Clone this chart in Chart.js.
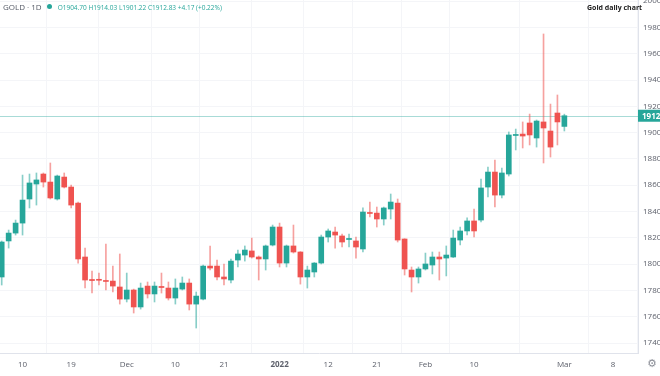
<!DOCTYPE html>
<html lang="en">
  <head>
    <meta charset="UTF-8" />
    <title>Gold daily chart</title>
    <style>
      body {
        margin: 0;
        background: #fff;
        font-family: "Open Sans", sans-serif;
      }
      .wrap {
        position: relative;
        width: 660px;
        height: 376px;
      }
      .head {
        position: absolute;
        left: 3px;
        top: 1px;
        font-size: 8px;
        color: #555a66;
        white-space: nowrap;
      }
      .head .dot {
        display: inline-block;
        width: 5px;
        height: 5px;
        border-radius: 50%;
        background: #26a69a;
        margin: 0 6px 0 5px;
        vertical-align: 1px;
      }
      .head .ohlc {
        font-size: 6.5px;
        color: #26a69a;
      }
      .title {
        position: absolute;
        left: 587px;
        top: 3px;
        font-size: 7px;
        font-weight: bold;
        color: #222;
      }
      .gear {
        position: absolute;
        left: 647px;
        top: 357px;
        font-family: "DejaVu Sans", sans-serif;
        font-size: 11px;
        color: #8a8d96;
      }
    </style>
  </head>
  <body>
    <div class="wrap">
      <canvas id="goldChart" width="660" height="376"></canvas>
      <div class="head">
        GOLD · 1D<span class="dot"></span
        ><span class="ohlc">O1904.70 H1914.03 L1901.22 C1912.83 +4.17 (+0.22%)</span>
      </div>
      <div class="title">Gold daily chart</div>
      <div class="gear">⚙</div>
    </div>
    <script src="https://cdn.jsdelivr.net/npm/chart.js"></script>
    <script>
      // daily candles, one per trading day (Nov 2021 - Mar 1 2022)
      const opens = [
        1790.2, 1817.6, 1823.6, 1831.2, 1849.5, 1860.9, 1868.5, 1862.4, 1849.5, 1866.2,
        1858.6, 1846.4, 1805.4, 1788.3, 1788.1, 1787.5, 1787.1, 1782.6, 1773.4, 1780.3,
        1767.4, 1783.3, 1777.3, 1783.0, 1781.8, 1774.2, 1781.0, 1785.6, 1769.6, 1773.4,
        1798.5, 1798.5, 1790.2, 1787.9, 1803.1, 1806.9, 1810.0, 1805.4, 1803.9, 1814.5,
        1828.2, 1800.8, 1813.8, 1809.2, 1790.2, 1794.0, 1800.8, 1820.6, 1824.4, 1821.4,
        1818.7, 1817.6, 1811.5, 1839.2, 1838.8, 1834.3, 1841.9, 1846.4, 1819.1, 1795.5,
        1790.2, 1796.3, 1799.3, 1805.4, 1804.6, 1805.4, 1818.3, 1825.2, 1832.8, 1833.5,
        1858.6, 1870.0, 1852.5, 1868.5, 1897.8, 1898.9, 1907.3, 1895.9, 1908.1, 1901.2,
        1914.9, 1904.7
      ];
      const highs = [
        1817.6, 1825.9, 1833.5, 1867.7, 1868.5, 1869.3, 1869.3, 1876.9, 1867.7, 1869.3,
        1860.1, 1847.2, 1812.2, 1794.7, 1793.2, 1815.3, 1798.5, 1807.7, 1793.2, 1781.0,
        1785.6, 1786.4, 1786.4, 1793.2, 1786.4, 1788.7, 1790.2, 1788.7, 1778.8, 1799.3,
        1813.8, 1803.1, 1800.1, 1803.9, 1810.7, 1813.8, 1819.8, 1806.2, 1814.5, 1829.7,
        1831.2, 1814.5, 1829.7, 1809.5, 1798.5, 1801.2, 1822.1, 1826.7, 1828.2, 1822.9,
        1822.9, 1820.6, 1842.7, 1847.2, 1843.4, 1843.4, 1853.3, 1849.5, 1819.3, 1797.8,
        1797.8, 1808.4, 1809.2, 1809.2, 1813.8, 1825.9, 1828.2, 1835.1, 1841.9, 1864.7,
        1873.8, 1879.2, 1873.1, 1900.5, 1902.7, 1908.1, 1914.1, 1909.6, 1975.0, 1921.7,
        1928.6, 1914.03
      ];
      const lows = [
        1784.1, 1812.2, 1822.1, 1822.1, 1842.7, 1844.9, 1858.6, 1849.5, 1848.7, 1857.9,
        1842.7, 1800.8, 1781.8, 1778.0, 1784.1, 1780.3, 1778.8, 1769.6, 1771.2, 1762.8,
        1765.8, 1774.2, 1771.2, 1778.0, 1772.7, 1769.6, 1780.3, 1765.1, 1751.4, 1772.7,
        1795.5, 1787.9, 1784.1, 1785.6, 1797.8, 1802.3, 1804.6, 1787.9, 1795.5, 1813.8,
        1797.8, 1797.8, 1808.4, 1784.8, 1781.8, 1790.2, 1800.1, 1816.8, 1812.2, 1813.0,
        1813.0, 1804.6, 1809.2, 1835.8, 1828.2, 1829.7, 1834.3, 1816.8, 1791.7, 1778.8,
        1785.6, 1795.5, 1792.5, 1787.9, 1791.0, 1805.0, 1814.5, 1822.1, 1820.6, 1832.0,
        1851.0, 1843.4, 1850.3, 1867.0, 1886.8, 1888.3, 1890.6, 1889.0, 1876.9, 1881.4,
        1890.6, 1901.22
      ];
      const closes = [
        1816.8, 1823.6, 1831.2, 1848.7, 1861.7, 1864.0, 1862.4, 1850.3, 1867.0, 1858.6,
        1844.9, 1803.9, 1787.9, 1787.5, 1787.7, 1786.8, 1783.3, 1773.4, 1780.3, 1767.4,
        1781.8, 1777.3, 1783.3, 1782.2, 1774.2, 1781.8, 1785.6, 1769.6, 1775.7, 1798.5,
        1797.0, 1790.2, 1788.7, 1802.3, 1807.7, 1810.7, 1805.4, 1803.9, 1813.8, 1828.2,
        1800.8, 1813.8, 1809.2, 1790.2, 1795.5, 1800.8, 1820.6, 1825.2, 1822.1, 1816.8,
        1819.5, 1813.0, 1839.6, 1838.5, 1834.3, 1842.7, 1847.2, 1818.3, 1796.3, 1790.2,
        1796.3, 1800.1, 1805.4, 1803.9, 1806.9, 1819.8, 1825.2, 1832.8, 1825.2, 1857.9,
        1870.0, 1852.5, 1869.3, 1898.2, 1898.6, 1897.4, 1898.2, 1908.8, 1903.5, 1889.0,
        1908.1, 1912.83
      ];
      // bar index -> date label on the time axis
      const tickIdx = [3, 10, 18, 25, 32, 40, 47, 54, 61, 68, 81, 88];
      const tickText = ["10", "19", "Dec", "10", "21", "2022", "12", "21", "Feb", "10", "Mar", "8"];
      const lastPrice = 1912.83;

      const UP = "#26a69a";
      const DOWN = "#ef5350";
      const isUp = (i) => closes[i] >= opens[i];

      Chart.defaults.font.family = "'Open Sans', sans-serif";
      Chart.defaults.font.size = 8;
      Chart.defaults.color = "#5d606b";

      const priceLine = {
        id: "priceLine",
        beforeDatasetsDraw(chart) {
          const { ctx, chartArea, scales } = chart;
          const y = Math.round(scales.y.getPixelForValue(lastPrice)) + 0.5;
          ctx.save();
          ctx.strokeStyle = "rgba(38,166,154,0.4)";
          ctx.lineWidth = 1;
          ctx.beginPath();
          ctx.moveTo(chartArea.left, y);
          ctx.lineTo(chartArea.right, y);
          ctx.stroke();
          ctx.restore();
        },
        afterDraw(chart) {
          const { ctx, chartArea, scales } = chart;
          const y = scales.y.getPixelForValue(lastPrice);
          ctx.save();
          ctx.fillStyle = UP;
          ctx.fillRect(chartArea.right, y - 6, 30, 12);
          ctx.fillStyle = "#fff";
          ctx.font = "bold 8px 'Open Sans', sans-serif";
          ctx.textBaseline = "middle";
          ctx.fillText(lastPrice.toFixed(2), chartArea.right + 4, y + 0.5);
          ctx.restore();
        },
      };

      new Chart(document.getElementById("goldChart"), {
        type: "bar",
        data: {
          datasets: [
            {
              label: "Body",
              data: opens.map((o, i) => ({ x: i, y: [o, closes[i]] })),
              backgroundColor: opens.map((o, i) => (isUp(i) ? UP : DOWN)),
              barThickness: 5,
              minBarLength: 1,
              grouped: false,
            },
            {
              label: "Wick",
              data: lows.map((l, i) => ({ x: i, y: [l, highs[i]] })),
              backgroundColor: lows.map((l, i) =>
                isUp(i) ? "rgba(38,166,154,0.55)" : "rgba(239,83,80,0.55)"
              ),
              barThickness: 1,
              grouped: false,
            },
          ],
        },
        options: {
          responsive: false,
          animation: false,
          layout: { padding: 0 },
          plugins: {
            legend: { display: false },
            tooltip: { enabled: false },
          },
          scales: {
            x: {
              type: "linear",
              offset: false,
              min: -0.245,
              max: 91.6,
              afterFit: (s) => {
                s.height = 23;
                s.paddingLeft = 0;
                s.paddingRight = 0;
              },
              afterBuildTicks: (s) => {
                s.ticks = tickIdx.map((v) => ({ value: v }));
              },
              grid: { color: "#f4f5f8", drawTicks: false },
              border: { color: "#e0e3eb" },
              ticks: {
                padding: 7,
                maxRotation: 0,
                autoSkip: false,
                color: "#5d606b",
                font: (c) => ({
                  size: 8,
                  weight: c.tick && c.tick.value === 40 ? "bold" : "normal",
                }),
                callback: (v) => tickText[tickIdx.indexOf(v)],
              },
            },
            y: {
              position: "right",
              min: 1732.4,
              max: 2000.84,
              afterFit: (s) => {
                s.width = 22;
                s.paddingTop = 0;
                s.paddingBottom = 0;
              },
              afterBuildTicks: (s) => {
                const t = [];
                for (let v = 1740; v <= 2000; v += 20) t.push({ value: v });
                s.ticks = t;
              },
              grid: { color: "#f4f5f8", drawTicks: false },
              border: { color: "#e0e3eb" },
              ticks: {
                padding: 5,
                color: "#5d606b",
                callback: (v) => v.toFixed(2),
              },
            },
          },
        },
        plugins: [priceLine],
      });
    </script>
  </body>
</html>
